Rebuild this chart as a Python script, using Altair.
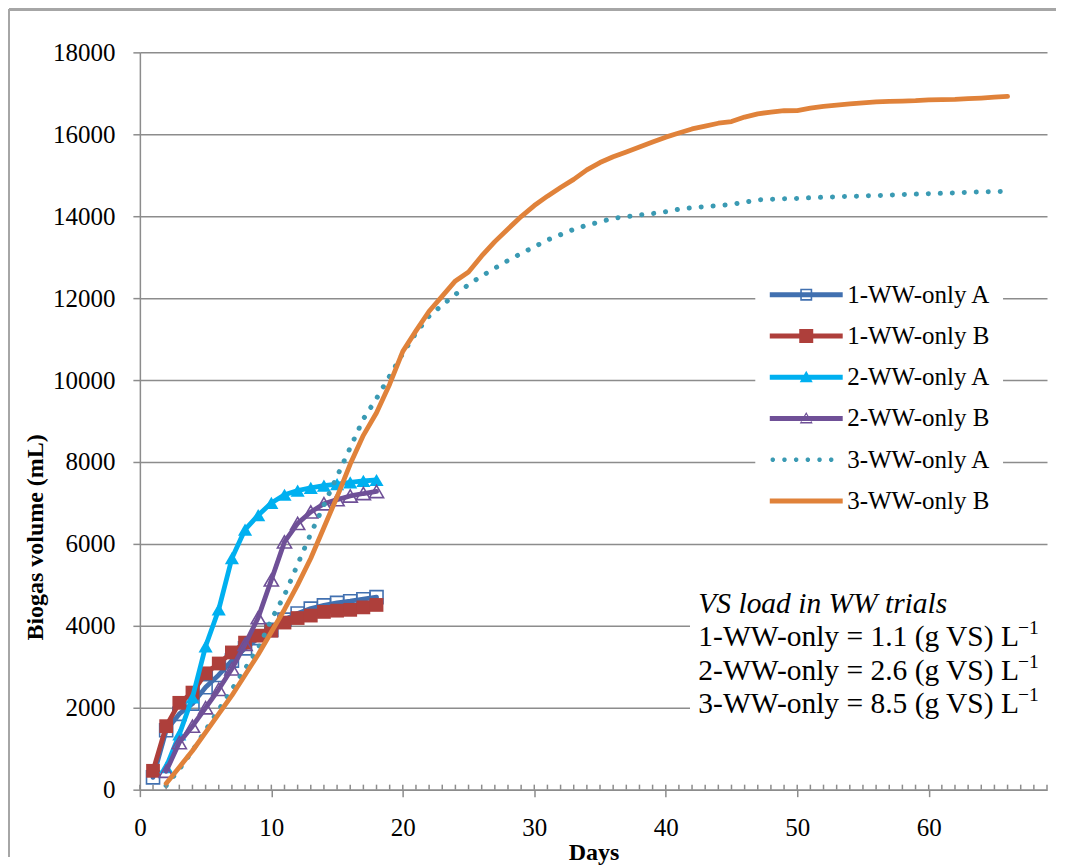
import altair as alt
import pandas as pd

# ---------------- data ----------------
series_names = ["1-WW-only A", "1-WW-only B", "2-WW-only A", "2-WW-only B", "3-WW-only A", "3-WW-only B"]
series_colors = ["#4170B0", "#AE3F3B", "#00B0F0", "#6F5097", "#3A9AB3", "#E0823A"]

days_1 = list(range(1, 19))
ww1_a = [300, 1450, 1850, 2100, 2500, 2800, 3150, 3450, 3700, 3900, 4150, 4300, 4420, 4500, 4560, 4600, 4650, 4700]
ww1_b = [460, 1550, 2120, 2370, 2840, 3080, 3350, 3590, 3760, 3880, 4080, 4190, 4250, 4340, 4370, 4390, 4450, 4510]

days_2 = list(range(2, 19))
ww2_a = [550, 1350, 2250, 3500, 4400, 5650, 6350, 6700, 7000, 7200, 7300, 7370, 7420, 7460, 7500, 7540, 7560]
ww2_b = [450, 1150, 1550, 2000, 2450, 2950, 3550, 4200, 5120, 6050, 6500, 6780, 6980, 7080, 7170, 7230, 7280]

days_3 = list(range(2, 67))
ww3_a = [100, 500, 950, 1450, 1950, 2450, 2950, 3450, 4150, 4750, 5500, 6250, 6950, 7650, 8350, 9050, 9550,
         10100, 10650, 11150, 11560, 11830, 12090, 12330, 12540, 12730, 12920, 13090, 13250, 13420, 13550,
         13680, 13780, 13860, 13950, 13990, 14030, 14066, 14110, 14170, 14210, 14235, 14260, 14290, 14340,
         14400, 14415, 14425, 14435, 14450, 14465, 14475, 14485, 14495, 14505, 14515, 14530, 14540, 14550,
         14560, 14570, 14585, 14595, 14600, 14610]
ww3_b = [150, 550, 950, 1400, 1850, 2300, 2800, 3300, 3850, 4400, 5000, 5650, 6400, 7150, 7950, 8650, 9200,
         9900, 10700, 11200, 11680, 12050, 12420, 12640, 13030, 13380, 13690, 13990, 14260, 14490, 14700,
         14900, 15130, 15310, 15450, 15570, 15690, 15810, 15930, 16030, 16130, 16200, 16270, 16310, 16420,
         16500, 16540, 16575, 16580, 16640, 16680, 16710, 16740, 16765, 16790, 16805, 16810, 16820, 16840,
         16845, 16850, 16870, 16885, 16905, 16925]

y_ticks = list(range(0, 18001, 2000))
x_ticks = [0, 10, 20, 30, 40, 50, 60]
x_minor = list(range(0, 70))

note_title = "VS load in WW trials"
note_lines = ["1-WW-only = 1.1 (g VS) L", "2-WW-only = 2.6 (g VS) L", "3-WW-only = 8.5 (g VS) L"]
note_sup = "\u22121"

# ---------------- table ----------------
rows = []
for name, dd, vv in [(series_names[0], days_1, ww1_a), (series_names[1], days_1, ww1_b),
                     (series_names[2], days_2, ww2_a), (series_names[3], days_2, ww2_b),
                     (series_names[4], days_3, ww3_a), (series_names[5], days_3, ww3_b)]:
    for d, v in zip(dd, vv):
        rows.append({"series": name, "day": d, "volume": v})
df = pd.DataFrame(rows)
minor_df = pd.DataFrame({"day": x_minor})

W, H = 908, 738
FONT = "Liberation Serif"
GRAY = "#8C8C8C"

xscale = alt.Scale(domain=[0, 69], nice=False, zero=False)
yscale = alt.Scale(domain=[0, 18000], nice=False)
cscale = alt.Scale(domain=series_names, range=series_colors)

# legend symbols: line + marker, drawn as custom paths (unit = 10 px)
bar = "M-1,-0.25H6.3V0.25H-1Z"
def dot(cx, r=0.22):
    k = r * 0.414
    return (f"M{cx - k:.3f},{-r:.3f}L{cx + k:.3f},{-r:.3f}L{cx + r:.3f},{-k:.3f}L{cx + r:.3f},{k:.3f}"
            f"L{cx + k:.3f},{r:.3f}L{cx - k:.3f},{r:.3f}L{cx - r:.3f},{k:.3f}L{cx - r:.3f},{-k:.3f}Z")
legend_shapes = [
    bar + "M2.05,-0.6H3.25V0.6H2.05ZM2.21,-0.44V0.44H3.09V-0.44Z",
    bar + "M1.95,-0.7H3.35V0.7H1.95Z",
    bar + "M2.65,-0.65L3.3,0.5H2.0Z",
    bar + "M2.65,-0.65L3.3,0.5H2.0ZM2.65,-0.38L2.15,0.37H3.15Z",
    "".join(dot(c) for c in [-0.7, 0.47, 1.64, 2.81, 3.98, 5.15]),
    bar,
]

base = alt.Chart(df)

x_axis = alt.Axis(values=x_ticks, title="Days", tickSize=7, labelPadding=19, titlePadding=0,
                  grid=False, domainColor=GRAY, tickColor=GRAY, domainWidth=1.5, tickWidth=1.5,
                  labelFontSize=25, titleFontSize=24, titleFontWeight="bold", labelFont=FONT,
                  titleFont=FONT, labelColor="black", titleColor="black", labelFlush=False)
y_axis = alt.Axis(values=y_ticks, format="d", title="Biogas volume (mL)", tickSize=7, labelPadding=18,
                  grid=True, gridColor=GRAY, gridWidth=1.5, domainColor=GRAY,
                  tickColor=GRAY, domainWidth=1.5, tickWidth=1.5, labelFontSize=25, titleFontSize=24,
                  titleFontWeight="bold", labelFont=FONT, titleFont=FONT, labelColor="black",
                  titleColor="black", labelFlush=False,
                  titleX=-104, titleY=485, titleAngle=270, titleAlign="center", titleBaseline="middle")

def xenc(axis=None):
    if axis is None:
        return alt.X("day:Q", scale=xscale)
    return alt.X("day:Q", scale=xscale, axis=axis)

def yenc(axis=None):
    if axis is None:
        return alt.Y("volume:Q", scale=yscale)
    return alt.Y("volume:Q", scale=yscale, axis=axis)

marker_spec = {
    series_names[0]: dict(shape="square", filled=False, size=170, strokeWidth=1.6),
    series_names[1]: dict(shape="square", filled=True, size=190),
    series_names[2]: dict(shape="triangle-up", filled=True, size=200),
    series_names[3]: dict(shape="triangle-up", filled=False, size=200, strokeWidth=1.6),
}

layers = []
for k, name in enumerate(series_names):
    c = series_colors[k]
    sub = base.transform_filter(alt.datum.series == name)
    if name == series_names[4]:
        ln = sub.mark_line(strokeWidth=5, strokeCap="round", strokeDash=[0.1, 11.9], color=c, opacity=1)
    else:
        ln = sub.mark_line(strokeWidth=4.8, strokeCap="round", strokeJoin="round", color=c, opacity=1)
    if k == 0:
        layers.append(ln.encode(x=xenc(x_axis), y=yenc(y_axis)))
    else:
        layers.append(ln.encode(x=xenc(), y=yenc()))
    if name in marker_spec:
        layers.append(sub.mark_point(color=c, opacity=1, **marker_spec[name]).encode(x=xenc(), y=yenc()))

# minor x ticks (one per day)
layers.append(alt.Chart(minor_df).mark_rule(color=GRAY, strokeWidth=1.5).encode(
    x=alt.X("day:Q", scale=xscale), y=alt.value(H - 5), y2=alt.value(H)))

# legend carrier: no visible points, legend shows line+marker paths
leg = alt.Legend(title=None, orient="none", legendX=616, legendY=218,
                 symbolSize=400, symbolStrokeWidth=0, symbolOpacity=1, labelOffset=55,
                 labelFontSize=25, labelFont=FONT, labelColor="black",
                 rowPadding=15.3, padding=12, fillColor="white")
legend_layer = base.transform_filter(alt.datum.day < -100).mark_point(filled=True, opacity=1).encode(
    x=xenc(), y=yenc(),
    color=alt.Color("series:N", scale=cscale, legend=leg),
    shape=alt.Shape("series:N", scale=alt.Scale(domain=series_names, range=legend_shapes), legend=leg),
)
layers.append(legend_layer)

# white box behind the annotation (hides gridlines like the original text box)
layers.append(base.mark_rect(color="white").encode(
    x=alt.value(551), x2=alt.value(W + 3), y=alt.value(512), y2=alt.value(670)))

# annotation text
NX, NY, LH = 559, 552, 33.5
note_df = pd.DataFrame({"t": [note_title] + note_lines, "i": list(range(1 + len(note_lines)))})
layers.append(alt.Chart(note_df).transform_filter(alt.datum.i == 0).mark_text(
    align="left", baseline="middle", font=FONT, fontSize=29.5, fontStyle="italic", color="black"
).encode(x=alt.value(NX), y=alt.value(NY), text="t:N"))
for i in range(1, len(note_lines) + 1):
    layers.append(alt.Chart(note_df).transform_filter(alt.datum.i == i).mark_text(
        align="left", baseline="middle", font=FONT, fontSize=29.5, color="black"
    ).encode(x=alt.value(NX), y=alt.value(NY + LH * i), text="t:N"))
    layers.append(alt.Chart(note_df).transform_filter(alt.datum.i == i).mark_text(
        align="left", baseline="middle", font=FONT, fontSize=19.5, color="black"
    ).encode(x=alt.value(NX + 10.951 * 29.5 - 3), y=alt.value(NY + LH * i - 9), text=alt.value(note_sup)))

# outer frame (left and top edges)
layers.append(base.mark_rule(color="#A6A6A6", strokeWidth=2).encode(
    x=alt.value(-131), y=alt.value(-43), y2=alt.value(805)))
layers.append(base.mark_rule(color="#A6A6A6", strokeWidth=2).encode(
    x=alt.value(-131), x2=alt.value(917), y=alt.value(-43)))

chart = alt.layer(*layers).properties(
    width=W, height=H, padding=0
).configure(background="white", font=FONT).configure_view(stroke=None)

chart.save("out.html", embed_options={"renderer": "svg", "actions": False})
